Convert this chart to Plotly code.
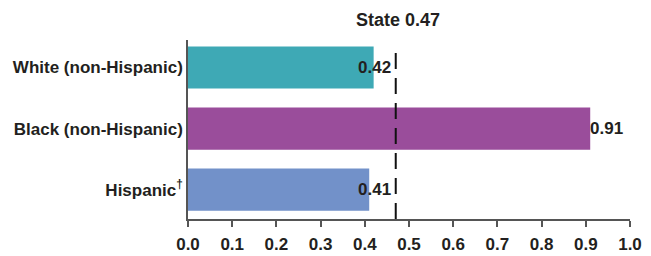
import plotly.graph_objects as go

categories = ["White (non-Hispanic)", "Black (non-Hispanic)", "Hispanic<sup>†</sup>"]
values = [0.42, 0.91, 0.41]
colors = ["#3EA9B5", "#9A4D9B", "#7291C9"]
value_labels = ["0.42", "0.91", "0.41"]
state_value = 0.47
state_label = "State 0.47"
x_ticks = [0.0, 0.1, 0.2, 0.3, 0.4, 0.5, 0.6, 0.7, 0.8, 0.9, 1.0]
x_tick_labels = ["0.0", "0.1", "0.2", "0.3", "0.4", "0.5", "0.6", "0.7", "0.8", "0.9", "1.0"]

FONT = "Liberation Sans, Arial, sans-serif"
TXT = "#231F20"

fig = go.Figure()
fig.add_trace(go.Bar(
    x=values, y=categories, orientation="h",
    marker=dict(color=colors, line=dict(width=0)),
    width=0.69, hoverinfo="skip",
))

annotations = []
for cat, v, lab in zip(categories, values, value_labels):
    if v < state_value:
        annotations.append(dict(x=state_value, y=cat, xref="x", yref="y", text=f"<b>{lab}</b>",
                                showarrow=False, xanchor="right", xshift=-3,
                                font=dict(family=FONT, size=17, color=TXT)))
    else:
        annotations.append(dict(x=v, y=cat, xref="x", yref="y", text=f"<b>{lab}</b>",
                                showarrow=False, xanchor="left", xshift=-2,
                                font=dict(family=FONT, size=17, color=TXT)))
annotations.append(dict(x=state_value, y=1, xref="x", yref="paper", text=f"<b>{state_label}</b>",
                        showarrow=False, xanchor="center", yanchor="bottom", yshift=8, xshift=2,
                        font=dict(family=FONT, size=18, color=TXT)))

fig.add_shape(type="line", x0=state_value, x1=state_value, y0=0, y1=0.97,
              xref="x", yref="paper", line=dict(color="#111111", width=2, dash="16px,9px"))

fig.update_layout(
    width=643, height=248,
    margin=dict(l=180, r=21, t=32, b=37),
    paper_bgcolor="white", plot_bgcolor="white",
    showlegend=False,
    annotations=annotations,
    font=dict(family=FONT, size=17, color=TXT),
    xaxis=dict(range=[0, 1.0], tickvals=x_ticks, ticktext=[f"<b>{t}</b>" for t in x_tick_labels],
               showgrid=False, zeroline=False, showline=True, linecolor="#555555", linewidth=1.5,
               ticks="outside", ticklen=6, tickcolor="#555555", tickwidth=1.5, automargin=False,
               ticklabelstandoff=3,
               tickfont=dict(family=FONT, size=17, color=TXT)),
    yaxis=dict(type="category", categoryarray=categories, range=[2.48, -0.45],
               ticktext=[f"<b>{c}</b>" for c in categories], tickvals=categories,
               showgrid=False, zeroline=False, showline=True, linecolor="#555555", linewidth=1.5,
               ticks="", ticklabelstandoff=0, automargin=False,
               tickfont=dict(family=FONT, size=17, color=TXT)),
)

fig.write_html("out.html")
